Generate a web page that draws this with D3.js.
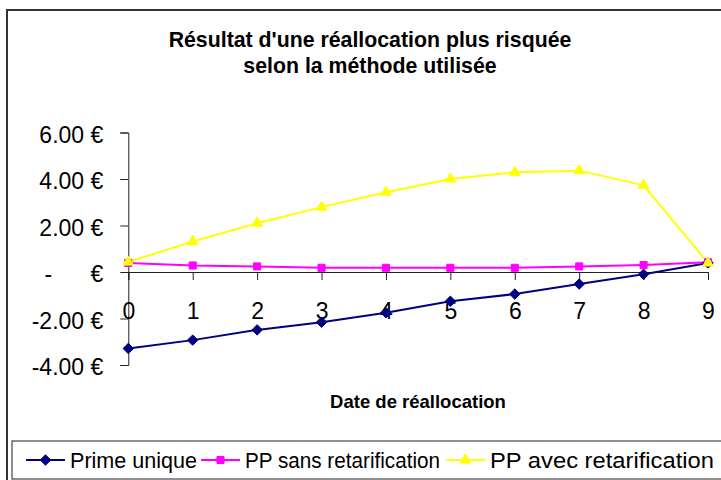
<!DOCTYPE html>
<html>
<head>
<meta charset="utf-8">
<script src="https://cdn.jsdelivr.net/npm/d3@7"></script>
<style>
  html, body { margin: 0; padding: 0; background: #fff; }
  svg { display: block; font-family: "Liberation Sans", Arial, sans-serif; }
  .ytick text { white-space: pre; }
</style>
</head>
<body>
<svg id="chart" width="721" height="480"></svg>
<script>
// ---- Data ----
const dates = [0, 1, 2, 3, 4, 5, 6, 7, 8, 9];
const primeUnique = [-3.29, -2.93, -2.49, -2.16, -1.75, -1.26, -0.95, -0.52, -0.10, 0.39];
const ppSans      = [0.39, 0.28, 0.24, 0.18, 0.18, 0.18, 0.18, 0.24, 0.30, 0.42];
const ppAvec      = [0.43, 1.31, 2.10, 2.79, 3.43, 4.00, 4.29, 4.36, 3.73, 0.39];
const yTicks = [-4, -2, 0, 2, 4, 6];
const seriesNames = ["Prime unique", "PP sans retarification", "PP avec retarification"];
const titleLines = ["Résultat d'une réallocation plus risquée", "selon la méthode utilisée"];
const xTitle = "Date de réallocation";

const series = [
  { name: seriesNames[0], values: primeUnique, color: "#000080", symbol: d3.symbolDiamond2, size: 70 },
  { name: seriesNames[1], values: ppSans, color: "#FF00FF", symbol: d3.symbolSquare2, size: 64 },
  { name: seriesNames[2], values: ppAvec, color: "#FFFF00", symbol: d3.symbolTriangle2, size: 80 }
];
// legend layout: text start x and text width for each item
const legendTextX = [70, 245, 490];
const legendTextW = [127, 195, 224];

const svg = d3.select("#chart");

// Outer frame
svg.append("rect").attr("x", 7).attr("y", 10).attr("width", 760).attr("height", 520)
  .attr("fill", "#fff").attr("stroke", "#333").attr("stroke-width", 2);

// Title
const title = svg.append("text").attr("text-anchor", "middle")
  .attr("font-weight", "bold").attr("font-size", 21.3).attr("fill", "#000");
titleLines.forEach((t, i) => {
  title.append("tspan").attr("x", 370).attr("y", 47 + i * 26).text(t);
});

// Scales
const x = d3.scaleLinear().domain([0, 9]).range([128.3, 708]);
const y = d3.scaleLinear().domain([-4, 6]).range([365, 132.5]);

// Y axis
const fmt2 = d3.format(".2f");
const yAxis = d3.axisLeft(y).tickValues(yTicks).tickSize(8).tickPadding(17)
  .tickFormat(d => d === 0 ? "-\u2008\u2007\u2007 €" : fmt2(d).replace("\u2212", "-") + " €");
const gy = svg.append("g").attr("class", "ytick").attr("transform", `translate(${x(0)},0)`).call(yAxis);
gy.select(".domain").attr("stroke", "#222");
gy.selectAll(".tick line").attr("stroke", "#222");
gy.selectAll(".tick text").attr("font-size", 23).attr("fill", "#000")
  .attr("font-family", '"Liberation Sans", Arial, sans-serif').attr("dy", "0.42em");

// X axis (at y = 0)
const xAxis = d3.axisBottom(x).tickValues(dates).tickSize(8).tickPadding(23).tickFormat(d3.format("d"));
const gx = svg.append("g").attr("transform", `translate(0,${y(0)})`).call(xAxis);
gx.select(".domain").attr("stroke", "#222");
gx.selectAll(".tick line").attr("stroke", "#222");
gx.selectAll(".tick text").attr("font-size", 23).attr("fill", "#000")
  .attr("font-family", '"Liberation Sans", Arial, sans-serif');

// X title
svg.append("text").attr("x", 418).attr("y", 408).attr("text-anchor", "middle")
  .attr("font-weight", "bold").attr("font-size", 18.5).text(xTitle);

// Lines and markers
const line = d3.line().x((d, i) => x(dates[i])).y(d => y(d));
series.forEach(s => {
  svg.append("path").attr("d", line(s.values)).attr("fill", "none")
    .attr("stroke", s.color).attr("stroke-width", 2);
});
series.forEach(s => {
  const sym = d3.symbol().type(s.symbol).size(s.size);
  svg.append("g").selectAll("path").data(s.values).join("path")
    .attr("d", sym)
    .attr("transform", (d, i) => `translate(${x(dates[i])},${y(d)})`)
    .attr("fill", s.color).attr("stroke", s.color).attr("stroke-width", 1);
});

// Legend
svg.append("rect").attr("x", 12).attr("y", 441).attr("width", 740).attr("height", 38)
  .attr("fill", "#fff").attr("stroke", "#444").attr("stroke-width", 1.2);
series.forEach((s, i) => {
  const tx = legendTextX[i];
  const lx = tx - 44;
  const g = svg.append("g");
  g.append("line").attr("x1", lx).attr("x2", lx + 39).attr("y1", 460).attr("y2", 460)
    .attr("stroke", s.color).attr("stroke-width", 2);
  g.append("path").attr("d", d3.symbol().type(s.symbol).size(s.size)())
    .attr("transform", `translate(${lx + 19.5},460)`).attr("fill", s.color).attr("stroke", s.color);
  g.append("text").attr("x", tx).attr("y", 467.5).attr("font-size", 21.5)
    .attr("textLength", legendTextW[i]).attr("lengthAdjust", "spacingAndGlyphs").text(s.name);
});
</script>
</body>
</html>
